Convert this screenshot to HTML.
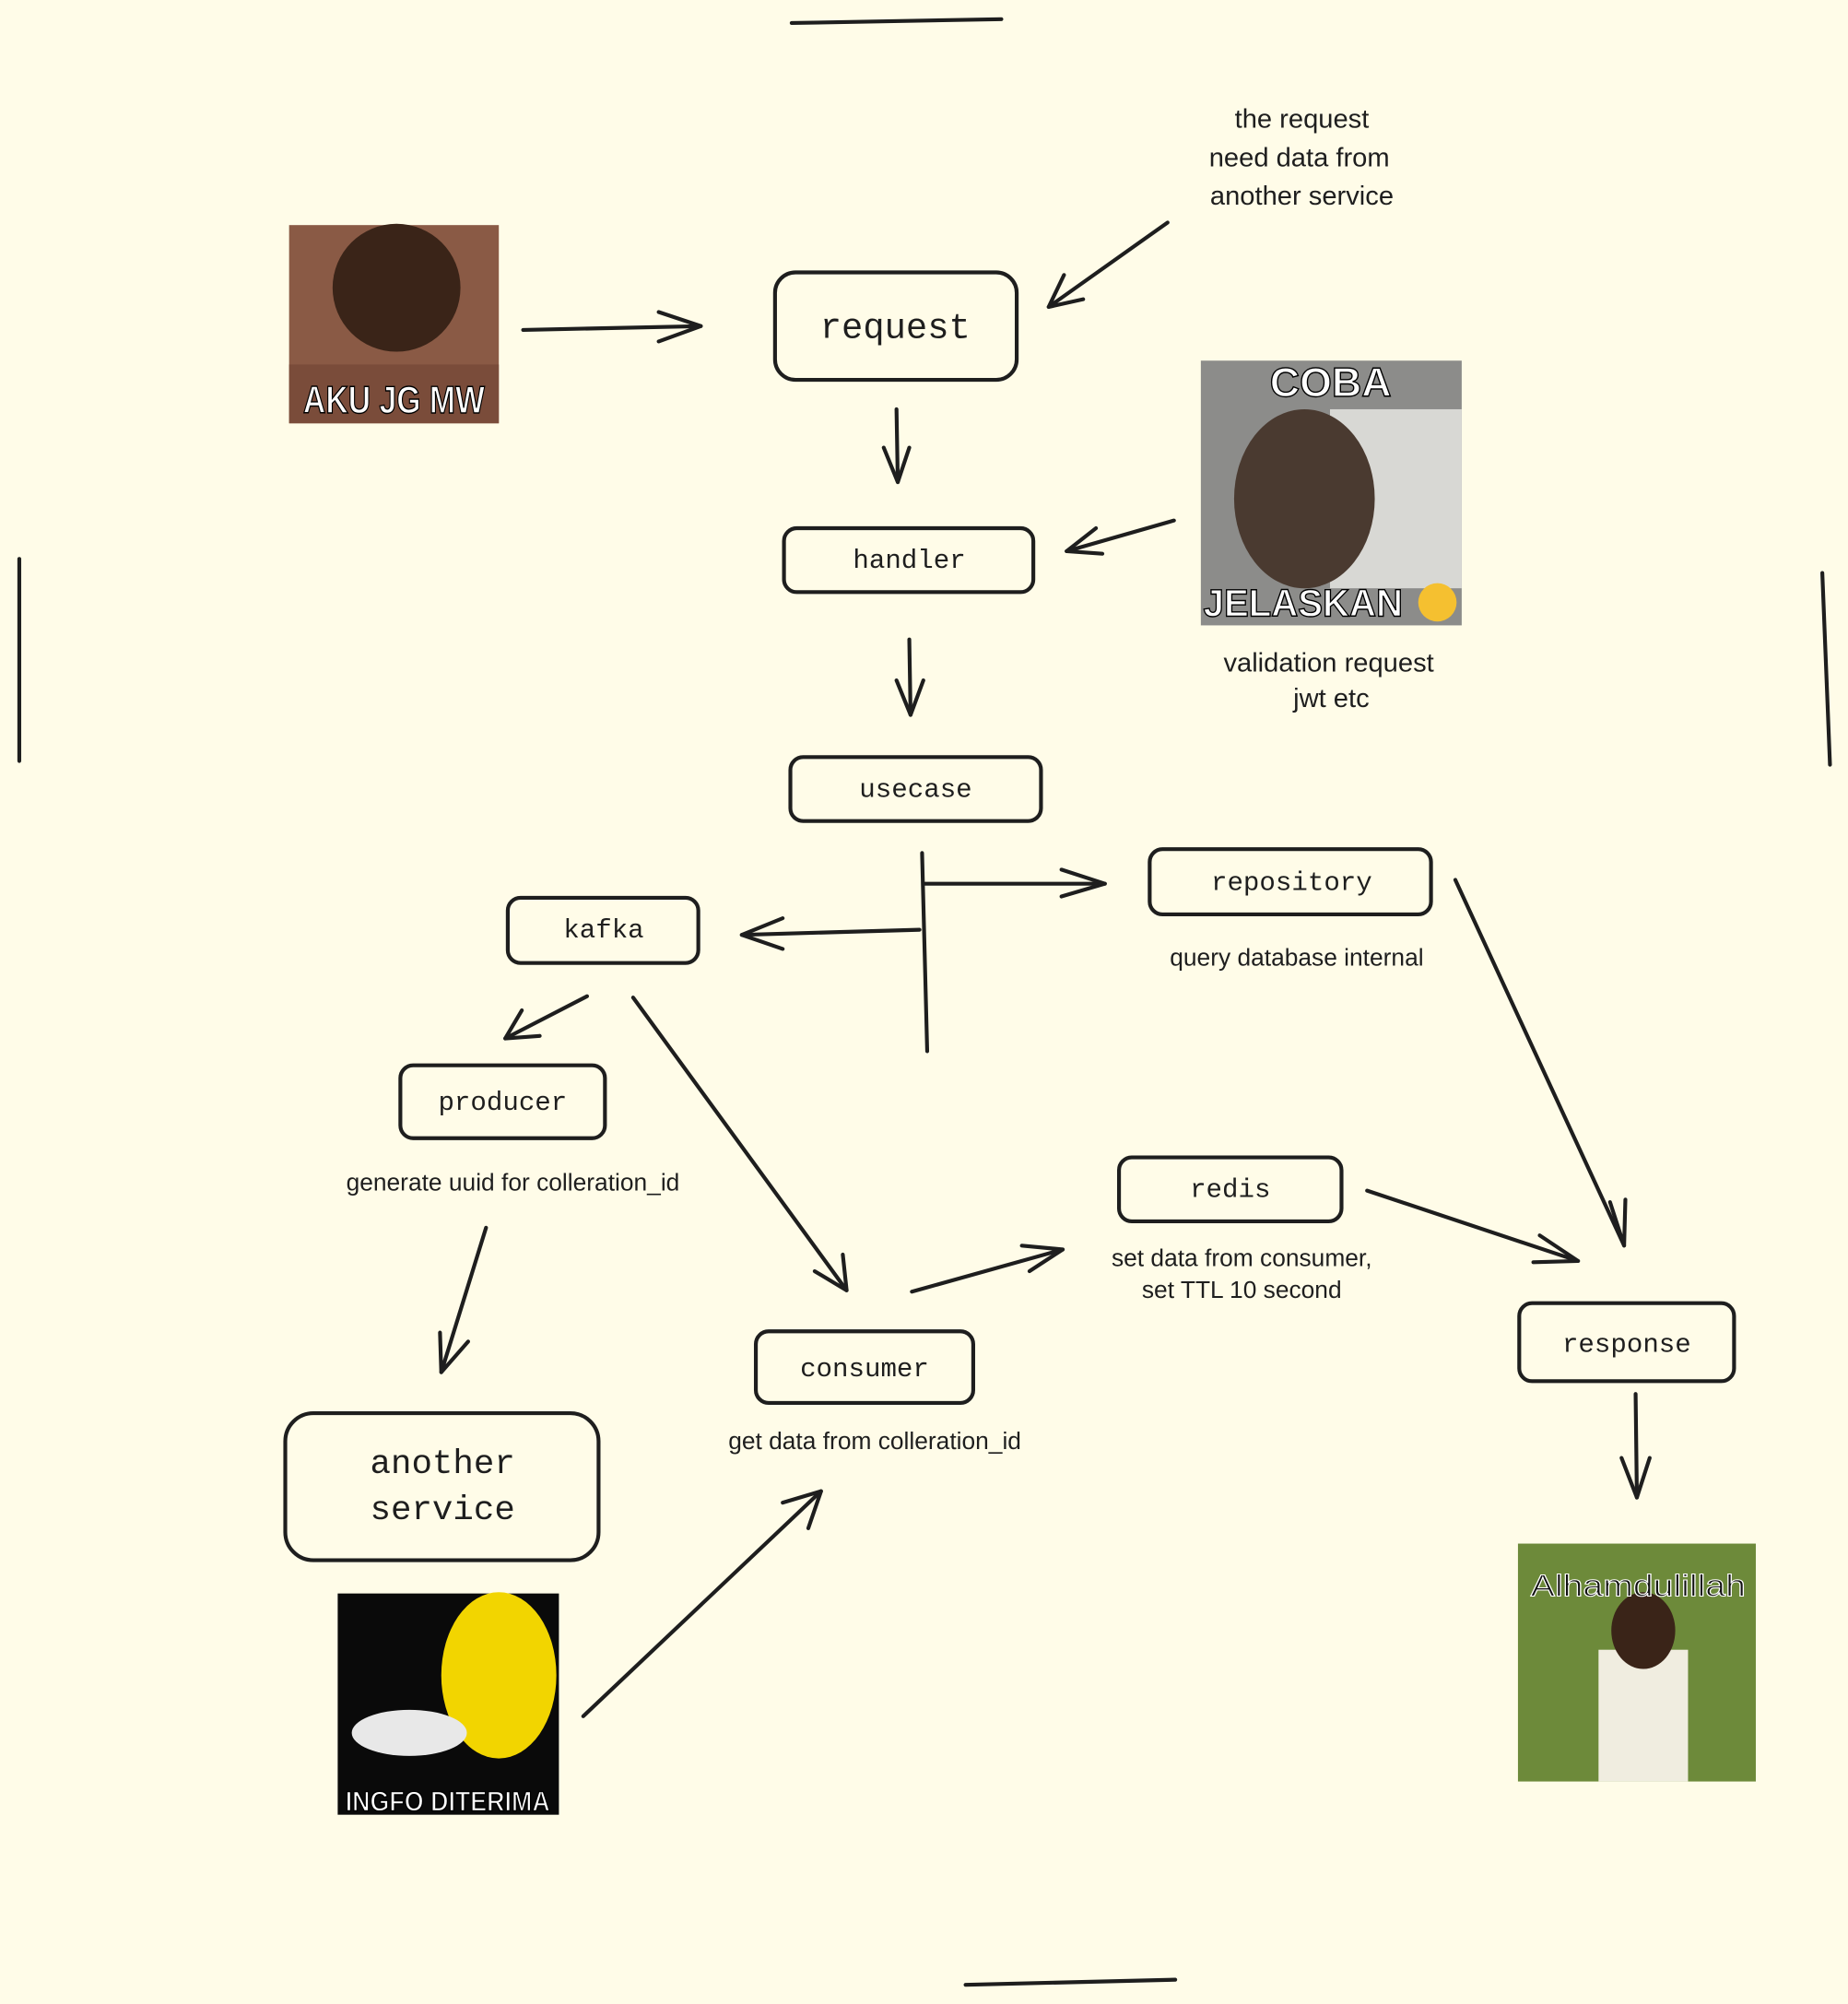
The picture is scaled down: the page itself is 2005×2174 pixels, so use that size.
<!DOCTYPE html>
<html><head><meta charset="utf-8"><style>
html,body{margin:0;padding:0;background:#fffce8;}
svg{display:block}
.b{fill:none;stroke:#1e1e1e;stroke-width:3;stroke-linecap:round;stroke-linejoin:round}
.m{font-family:"Liberation Mono",monospace;fill:#1e1e1e;text-anchor:middle}
.s{font-family:"Liberation Sans",sans-serif;fill:#1e1e1e;text-anchor:middle;font-size:19px}
.im{font-family:"Liberation Sans",sans-serif;font-weight:bold;fill:#fff}
</style></head><body>
<svg width="2005" height="2174" viewBox="0 0 1445 1567" xmlns="http://www.w3.org/2000/svg">
<rect width="1445" height="1567" fill="#fffce8"/>
<g class="b">
<path d="M619 18 L783 15"/><path d="M755 1552 L919 1548"/>
<path d="M15 437 L15 595"/><path d="M1425 448 L1431 598"/>
<rect x="606" y="213" width="189" height="84" rx="16"/>
<rect x="613" y="413" width="195" height="50" rx="10"/>
<rect x="618" y="592" width="196" height="50" rx="10"/>
<rect x="899" y="664" width="220" height="51" rx="10"/>
<rect x="397" y="702" width="149" height="51" rx="10"/>
<rect x="313" y="833" width="160" height="57" rx="10"/>
<rect x="875" y="905" width="174" height="50" rx="10"/>
<rect x="591" y="1041" width="170" height="56" rx="10"/>
<rect x="1188" y="1019" width="168" height="61" rx="10"/>
<rect x="223" y="1105" width="245" height="115" rx="22"/>
<path d="M409 258 L548 255"/><path d="M515 244 L548 255 L515 267"/>
<path d="M913 174 L820 240"/><path d="M832 215 L820 240 L847 234"/>
<path d="M701 320 L702 377"/><path d="M691 350 L702 377 L711 350"/>
<path d="M918 407 L834 431"/><path d="M857 413 L834 431 L862 433"/>
<path d="M711 500 L712 559"/><path d="M701 532 L712 559 L722 532"/>
<path d="M721 667 L725 822"/>
<path d="M722 691 L864 691"/><path d="M830 680 L864 691 L830 701"/>
<path d="M719 727 L580 731"/><path d="M612 718 L580 731 L612 742"/>
<path d="M459 779 L395 812"/><path d="M408 790 L395 812 L422 810"/>
<path d="M495 780 L662 1009"/><path d="M659 981 L662 1009 L637 994"/>
<path d="M380 960 L345 1073"/><path d="M344 1042 L345 1073 L366 1049"/>
<path d="M713 1010 L831 977"/><path d="M799 974 L831 977 L805 994"/>
<path d="M1069 931 L1234 986"/><path d="M1204 966 L1234 986 L1199 987"/>
<path d="M1138 688 L1270 974"/><path d="M1259 940 L1270 974 L1271 938"/>
<path d="M1279 1090 L1280 1171"/><path d="M1268 1140 L1280 1171 L1290 1140"/>
<path d="M456 1342 L642 1166"/><path d="M612 1175 L642 1166 L632 1195"/>
</g>
<g class="m">
<text x="700" y="264" font-size="28">request</text>
<text x="711" y="444" font-size="21">handler</text>
<text x="716" y="623" font-size="21">usecase</text>
<text x="1010" y="696" font-size="21">repository</text>
<text x="472" y="733" font-size="21">kafka</text>
<text x="393" y="868" font-size="21">producer</text>
<text x="962" y="936" font-size="21">redis</text>
<text x="676" y="1076" font-size="21">consumer</text>
<text x="1272" y="1057" font-size="21">response</text>
<text x="346" y="1152" font-size="27">another</text>
<text x="346" y="1188" font-size="27">service</text>
</g>
<g class="s">
<text x="1018" y="100" font-size="21">the request</text>
<text x="1016" y="130" font-size="21">need data from</text>
<text x="1018" y="160" font-size="21">another service</text>
<text x="1039" y="525" font-size="21">validation request</text>
<text x="1041" y="553" font-size="21">jwt etc</text>
<text x="1014" y="755">query database internal</text>
<text x="401" y="931">generate uuid for colleration_id</text>
<text x="971" y="990">set data from consumer,</text>
<text x="971" y="1015">set TTL 10 second</text>
<text x="684" y="1133">get data from colleration_id</text>
</g>
<rect x="226" y="176" width="164" height="155" fill="#8a5a45"/>
<ellipse cx="310" cy="225" rx="50" ry="50" fill="#3a2418"/>
<rect x="226" y="285" width="164" height="46" fill="#7a4c3a"/>
<text class="im" x="237" y="323" font-size="30" textLength="142" lengthAdjust="spacingAndGlyphs" stroke="#000" stroke-width="1">AKU JG MW</text>
<rect x="939" y="282" width="204" height="207" fill="#8c8c8a"/>
<rect x="1040" y="320" width="103" height="140" fill="#d8d8d4"/>
<ellipse cx="1020" cy="390" rx="55" ry="70" fill="#4a3a30"/>
<text class="im" x="993" y="310" font-size="32" textLength="95" lengthAdjust="spacingAndGlyphs" stroke="#000" stroke-width="1">COBA</text>
<text class="im" x="941" y="482" font-size="30" textLength="156" lengthAdjust="spacingAndGlyphs" stroke="#000" stroke-width="1">JELASKAN</text>
<circle cx="1124" cy="471" r="15" fill="#f5c030"/>
<rect x="264" y="1246" width="173" height="173" fill="#0a0a0a"/>
<ellipse cx="390" cy="1310" rx="45" ry="65" fill="#f2d500"/>
<ellipse cx="320" cy="1355" rx="45" ry="18" fill="#e8e8e8"/>
<text class="im" x="270" y="1416" font-size="22" textLength="160" lengthAdjust="spacingAndGlyphs" stroke="#000" stroke-width="1">INGFO DITERIMA</text>
<rect x="1187" y="1207" width="186" height="186" fill="#6d8a3a"/>
<rect x="1250" y="1290" width="70" height="103" fill="#f0ede0"/>
<ellipse cx="1285" cy="1275" rx="25" ry="30" fill="#3a2418"/>
<text x="1197" y="1248" font-size="24" textLength="168" lengthAdjust="spacingAndGlyphs" font-family="Liberation Sans,sans-serif" fill="#111" stroke="#fff" stroke-width="0.8">Alhamdulillah</text>
</svg>
</body></html>
